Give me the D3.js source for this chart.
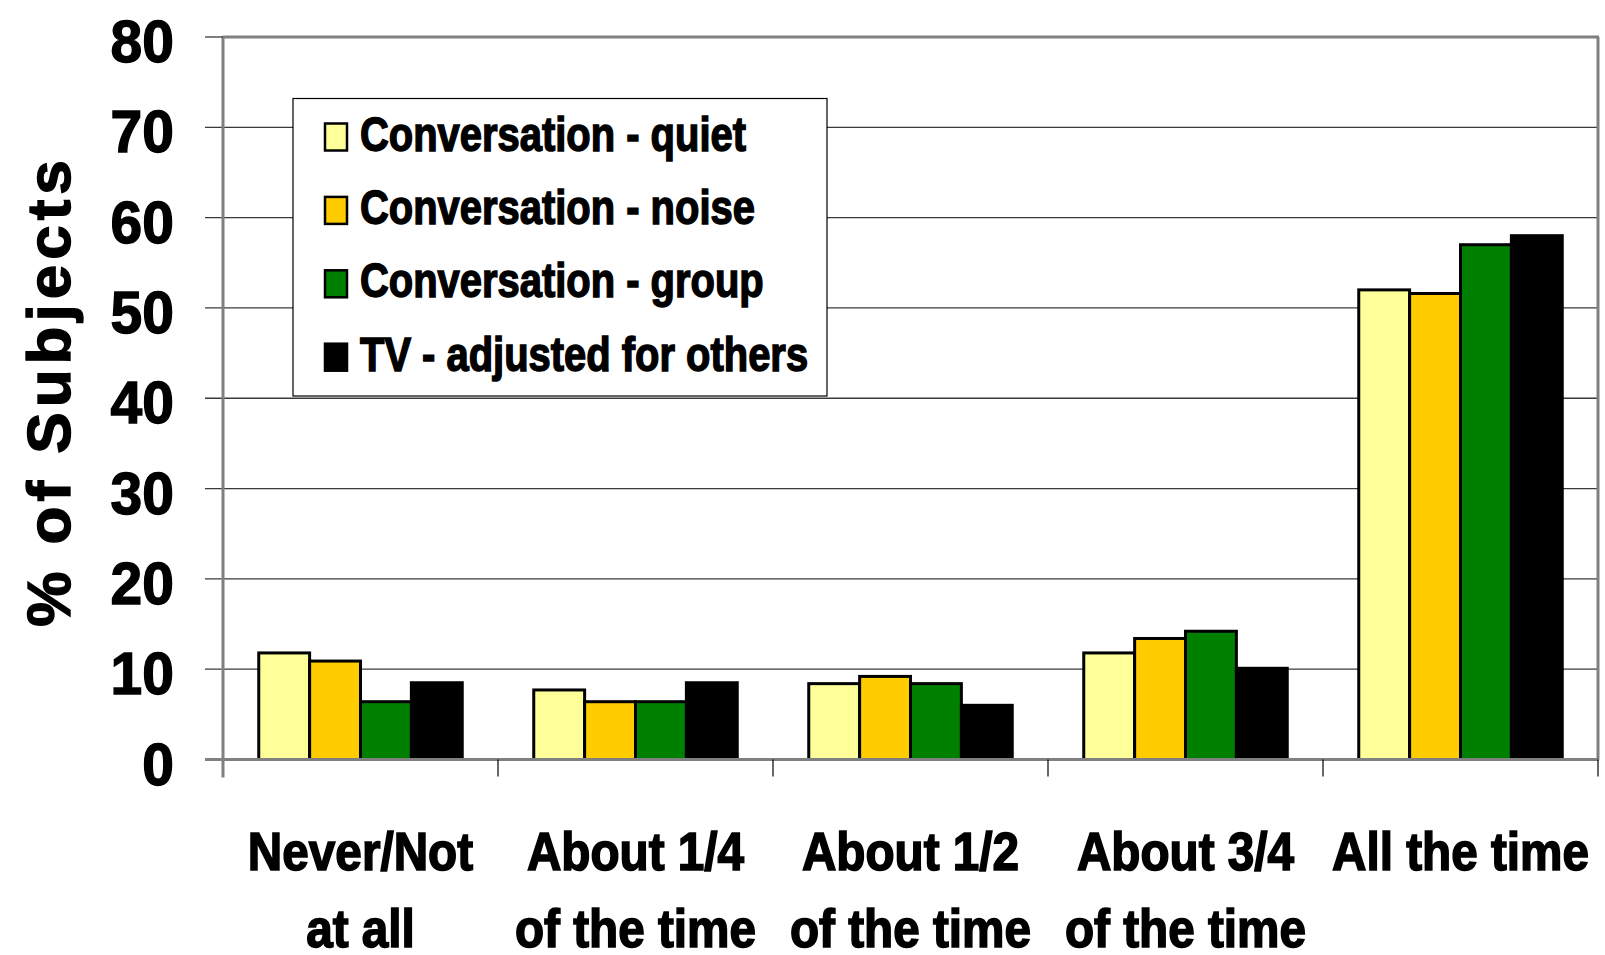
<!DOCTYPE html>
<meta charset="utf-8">
<style>
body { margin: 0; background: #fff; }
text { font-family: "Liberation Sans", Arial, sans-serif; font-weight: bold; fill: #000; stroke: #000; stroke-width: 1.4px; }
</style>
<script src="https://d3js.org/d3.v7.min.js"></script>
<div id="chart"></div>
<script>

// categories (two text lines each) and series
var categories = ["Never/Not at all", "About 1/4 of the time", "About 1/2 of the time", "About 3/4 of the time", "All the time"];
var categoryLines = [["Never/Not", "at all"], ["About 1/4", "of the time"], ["About 1/2", "of the time"], ["About 3/4", "of the time"], ["All the time"]];
var seriesNames = ["Conversation - quiet", "Conversation - noise", "Conversation - group", "TV - adjusted for others"];
var seriesColors = ["#ffff99", "#ffcc00", "#008000", "#000000"];

var quiet = [11.8, 7.7, 8.4, 11.8, 52.0];
var noise = [10.9, 6.4, 9.2, 13.4, 51.6];
var group = [6.4, 6.4, 8.4, 14.2, 57.0];
var tv    = [8.5, 8.5, 6.0, 10.1, 58.0];

var yTicks = [0, 10, 20, 30, 40, 50, 60, 70, 80];

var width = 1605, height = 955;
var plotLeft = 223, plotRight = 1598, plotTop = 37, plotBottom = 759.5;

var svg = d3.select("#chart").append("svg")
    .attr("width", width)
    .attr("height", height);

var x = d3.scaleBand()
    .domain(categories)
    .range([plotLeft, plotRight])
    .padding(0);

var y = d3.scaleLinear()
    .domain([0, 80])
    .range([plotBottom, plotTop]);

var xSub = d3.scaleBand()
    .domain(seriesNames)
    .range([x.bandwidth() * 0.13, x.bandwidth() * 0.87]);

// gridlines
svg.append("g").selectAll("line")
  .data(yTicks.filter(function(d) { return d > 0 && d < 80; }))
  .enter().append("line")
    .attr("x1", plotLeft - 18).attr("x2", plotRight)
    .attr("y1", function(d) { return y(d); })
    .attr("y2", function(d) { return y(d); })
    .attr("stroke", "#3a3a3a")
    .attr("stroke-width", 1.3);

// frame: top and right gray border
svg.append("line")
    .attr("x1", plotLeft).attr("x2", plotRight + 1)
    .attr("y1", y(80)).attr("y2", y(80))
    .attr("stroke", "#808080").attr("stroke-width", 3);
svg.append("line")
    .attr("x1", plotRight).attr("x2", plotRight)
    .attr("y1", y(80)).attr("y2", plotBottom)
    .attr("stroke", "#808080").attr("stroke-width", 3);

// bars
var data = [quiet, noise, group, tv];
svg.append("g").selectAll("g")
  .data(categories)
  .enter().append("g")
    .attr("transform", function(d) { return "translate(" + x(d) + ",0)"; })
  .selectAll("rect")
  .data(function(d, i) { return seriesNames.map(function(s, j) { return {key: s, value: data[j][i], color: seriesColors[j]}; }); })
  .enter().append("rect")
    .attr("x", function(d) { return xSub(d.key); })
    .attr("y", function(d) { return y(d.value); })
    .attr("width", xSub.bandwidth())
    .attr("height", function(d) { return plotBottom - y(d.value); })
    .attr("fill", function(d) { return d.color; })
    .attr("stroke", "#000")
    .attr("stroke-width", 3);

// zero line and left axis
svg.append("line")
    .attr("x1", plotLeft - 18).attr("x2", plotRight + 1)
    .attr("y1", plotBottom).attr("y2", plotBottom)
    .attr("stroke", "#808080").attr("stroke-width", 3);
svg.append("line")
    .attr("x1", plotLeft).attr("x2", plotLeft)
    .attr("y1", y(80) - 1).attr("y2", plotBottom + 18)
    .attr("stroke", "#808080").attr("stroke-width", 3);
svg.append("line")
    .attr("x1", plotLeft - 18).attr("x2", plotLeft)
    .attr("y1", y(80)).attr("y2", y(80))
    .attr("stroke", "#3a3a3a").attr("stroke-width", 1.3);

// category ticks under the axis
var bounds = categories.map(function(d) { return x(d); }).concat([plotRight]);
svg.append("g").selectAll("line")
  .data(bounds.slice(1))
  .enter().append("line")
    .attr("x1", function(d) { return d; })
    .attr("x2", function(d) { return d; })
    .attr("y1", plotBottom).attr("y2", plotBottom + 17)
    .attr("stroke", "#000").attr("stroke-width", 1.2);

// y tick labels
svg.append("g").selectAll("text")
  .data(yTicks)
  .enter().append("text")
    .attr("transform", function(d) { return "translate(174," + (y(d) + 25) + ") scale(0.95,1)"; })
    .attr("text-anchor", "end")
    .style("font-size", "60px")
    .text(function(d) { return d; });

// y title
svg.append("text")
    .attr("transform", "translate(70,391) rotate(-90)")
    .attr("text-anchor", "middle")
    .style("font-size", "62px")
    .style("letter-spacing", "5px")
    .text("% of Subjects");

// x category labels
var xl = svg.append("g").selectAll("g")
  .data(categories)
  .enter().append("g")
    .attr("transform", function(d) { return "translate(" + (x(d) + x.bandwidth() / 2) + ",0)"; });
xl.selectAll("text")
  .data(function(d, i) { return categoryLines[i]; })
  .enter().append("text")
    .attr("transform", function(d, i) { return "translate(0," + (870 + i * 77) + ") scale(0.9,1)"; })
    .attr("text-anchor", "middle")
    .style("font-size", "53px")
    .style("stroke-width", "1.6px")
    .text(function(d) { return d; });

// legend
var legend = svg.append("g");
legend.append("rect")
    .attr("x", 293).attr("y", 98.5)
    .attr("width", 534).attr("height", 297.5)
    .attr("fill", "#fff")
    .attr("stroke", "#000")
    .attr("stroke-width", 1.2);

var item = legend.selectAll(".item")
  .data(seriesNames)
  .enter().append("g")
    .attr("class", "item")
    .attr("transform", function(d, i) { return "translate(0," + (136.5 + i * 73.4) + ")"; });

item.append("rect")
    .attr("x", 325).attr("y", -13)
    .attr("width", 22).attr("height", 27)
    .attr("fill", function(d, i) { return seriesColors[i]; })
    .attr("stroke", "#000")
    .attr("stroke-width", 2.5);

item.append("text")
    .attr("transform", "translate(360,14) scale(0.815,1)")
    .style("font-size", "49px")
    .style("stroke-width", "1.5px")
    .text(function(d) { return d; });

</script>
